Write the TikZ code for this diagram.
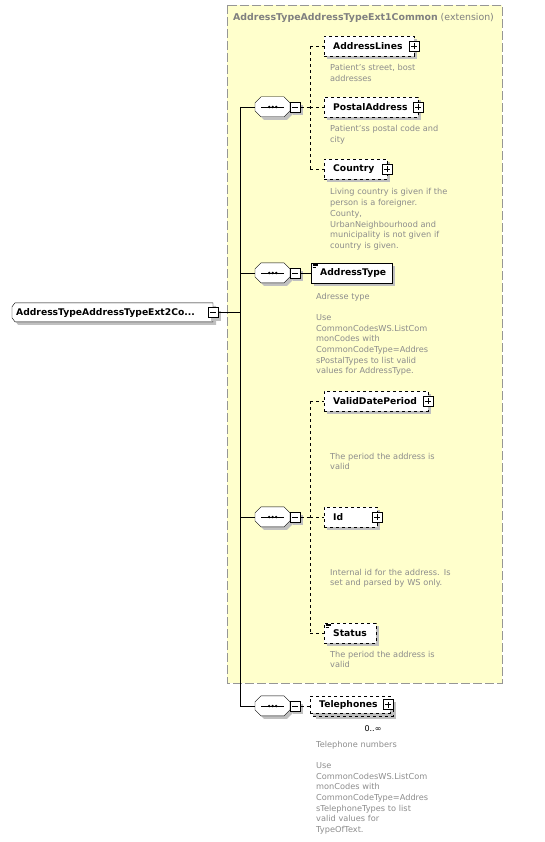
\documentclass[tikz,border=0pt]{standalone}
\usepackage{fontspec}
\setmainfont{DejaVu Sans}
\usetikzlibrary{shadows,backgrounds}

\definecolor{pale}{RGB}{255,255,204}
\definecolor{framegray}{RGB}{150,150,150}
\definecolor{titlegray}{RGB}{128,128,128}
\definecolor{descgray}{RGB}{140,140,140}
\definecolor{shadegray}{RGB}{192,192,192}

\tikzset{
  shade3/.style={drop shadow={shadow xshift=3pt,shadow yshift=-3pt,fill=shadegray,opacity=1}},
  elem/.style={draw, dashed, fill=white, anchor=west, minimum height=20pt,
    inner xsep=9pt, inner ysep=0pt, text width=#1, align=left,
    font=\bfseries\fontsize{9.2}{11}\selectfont, shade3},
  mandelem/.style={elem=#1, solid},
  rootbox/.style={anchor=west, minimum height=19pt, inner xsep=4pt, inner ysep=0pt,
    text width=#1, align=left, font=\bfseries\fontsize{9.2}{11}\selectfont},
  seqbox/.style={anchor=west, minimum width=35pt, minimum height=20pt, inner sep=0pt},
  minusbox/.style={draw, fill=white, minimum size=10pt, inner sep=0pt, shade3,
    path picture={\draw ([xshift=2pt]path picture bounding box.west) -- ([xshift=-2pt]path picture bounding box.east);}},
  plusbox/.style={draw, solid, fill=white, minimum size=10pt, inner sep=0pt, line width=0.8pt,
    path picture={\draw ([xshift=2pt]path picture bounding box.west) -- ([xshift=-2pt]path picture bounding box.east);
                   \draw ([yshift=2pt]path picture bounding box.south) -- ([yshift=-2pt]path picture bounding box.north);}},
  desc/.style={anchor=base west, inner sep=0pt, text width=150pt, align=left,
    text=descgray, font=\fontsize{8.2}{10.7}\selectfont},
  optline/.style={dashed},
}

\begin{document}
\begin{tikzpicture}[x=1pt,y=-1pt]
\useasboundingbox (0,0) rectangle (545,842);

% extension frame
\draw[fill=pale, draw=framegray, dash pattern=on 9pt off 3pt] (227,5) rectangle (502,683);
\node[anchor=west, inner sep=0pt, text=titlegray, font=\fontsize{9.4}{11}\selectfont] (ttl) at (233,18)
  {\textbf{AddressTypeAddressTypeExt1Common} (extension)};

% root element
\node[rootbox=193pt] (root) at (12,312.5) {AddressTypeAddressTypeExt2Co...};
\begin{scope}[on background layer]
  \fill[shadegray] ([xshift=6pt,yshift=-3pt]root.north west) -- ++(198pt,0) -- ++(0,-19pt)
    -- ++(-198pt,0) -- ++(-3pt,4pt) -- ++(0,11pt) -- cycle;
  \filldraw[fill=white] ([xshift=3pt]root.north west) -- ++(198pt,0) -- ++(0,-19pt)
    -- ++(-198pt,0) -- ++(-3pt,4pt) -- ++(0,11pt) -- cycle;
\end{scope}
\node[minusbox] (rm) at (213,312.5) {};
\coordinate (spine) at (240,312.5);

% sequences
\foreach \n/\y in {a/107,b/273,c/517,d/706}
{
    \node[seqbox] (s\n) at (255,\y) {};
    \fill[shadegray] ([xshift=9pt,yshift=-3pt]s\n.north west) -- ++(23pt,0) -- ++(6pt,-6pt) -- ++(0,-8pt)
      -- ++(-6pt,-6pt) -- ++(-23pt,0) -- ++(-6pt,6pt) -- ++(0,8pt) -- cycle;
    \filldraw[fill=white] ([xshift=6pt]s\n.north west) -- ++(23pt,0) -- ++(6pt,-6pt) -- ++(0,-8pt)
      -- ++(-6pt,-6pt) -- ++(-23pt,0) -- ++(-6pt,6pt) -- ++(0,8pt) -- cycle;
    \node[minusbox] (m\n) at ([xshift=5pt]s\n.east) {};
    \draw ([xshift=6pt]s\n.west) -- ([xshift=-6pt]s\n.east);
    \foreach \d in {-3.5,0,3.5}
        \fill ([xshift=\d pt]s\n.center) circle (1.3pt);
}

\draw (rm.east) -- (spine);
\draw (spine |- sa.west) -- (spine |- sd.west);
\foreach \n in {a,b,c,d}
    \draw (spine |- s\n.west) -- (s\n.west);

% address lines, postal address, country
\node[elem=72pt] (al) at (324,46.5) {AddressLines};
\node[plusbox] at (al.east) {};
\node[elem=76pt] (pa) at (324,107) {PostalAddress};
\node[plusbox] at (pa.east) {};
\node[elem=45pt] (co) at (324,169) {Country};
\node[plusbox] at (co.east) {};

\coordinate (subA) at (310,107);
\draw[optline] (ma.east) -- (subA);
\draw[optline] (subA |- al.west) -- (subA |- co.west);
\foreach \c in {al,pa,co}
    \draw[optline] (subA |- \c.west) -- (\c.west);

\node[desc] (dal) at (330,71) {Patient's street, bost\\addresses};
\node[desc] (dpa) at (330,132) {Patient'ss postal code and\\city};
\node[desc] (dco) at (330,195) {Living country is given if the\\person is a foreigner.\\County,\\UrbanNeighbourhood and\\municipality is not given if\\country is given.};

% address type
\node[mandelem=63pt] (at) at (311,273) {AddressType};
\draw (mb.east) -- (at.west);
\node[desc] (dat) at (316,299) {Adresse type\\[10.7pt]Use\\CommonCodesWS.ListCom\\monCodes with\\CommonCodeType=Addres\\sPostalTypes to list valid\\values for AddressType.};

% valid date period, id, status
\node[elem=86pt] (vd) at (324,401) {ValidDatePeriod};
\node[plusbox] at (vd.east) {};
\node[elem=35pt] (id) at (324,517) {Id};
\node[plusbox] at (id.east) {};
\node[elem=34pt] (st) at (324,633) {Status};

\coordinate (subC) at (310,517);
\draw[optline] (mc.east) -- (subC);
\draw[optline] (subC |- vd.west) -- (subC |- st.west);
\foreach \c in {vd,id,st}
    \draw[optline] (subC |- \c.west) -- (\c.west);

\node[desc] (dvd) at (330,459) {The period the address is\\valid};
\node[desc] (did) at (330,575) {Internal id for the address. Is\\set and parsed by WS only.};
\node[desc] (dst) at (330,657) {The period the address is\\valid};

% list marks
\foreach \b in {at,st}
    \foreach \k/\l in {0/5,1.6/5,3.2/3.5}
        \draw[solid, line width=0.5pt] ([xshift=1.5pt,yshift=-1pt-\k pt]\b.north west) -- ++(\l pt,0);

% telephones
\node[elem=62pt, minimum height=17pt] (tb) at (313,707.5) {\phantom{Telephones}};
\node[elem=62pt, minimum height=17pt, drop shadow={opacity=0}] (tel) at (310,704.5) {Telephones};
\node[plusbox] at ([xshift=-2pt]tel.east) {};
\draw[optline] (md.east) -- (md.east -| tel.west);
\node[inner sep=0pt, font=\fontsize{8}{9}\selectfont] (occ) at (373,729) {0..∞};
\node[desc] (dtel) at (316,747) {Telephone numbers\\[10.7pt]Use\\CommonCodesWS.ListCom\\monCodes with\\CommonCodeType=Addres\\sTelephoneTypes to list\\valid values for\\TypeOfText.};

\end{tikzpicture}
\end{document}
